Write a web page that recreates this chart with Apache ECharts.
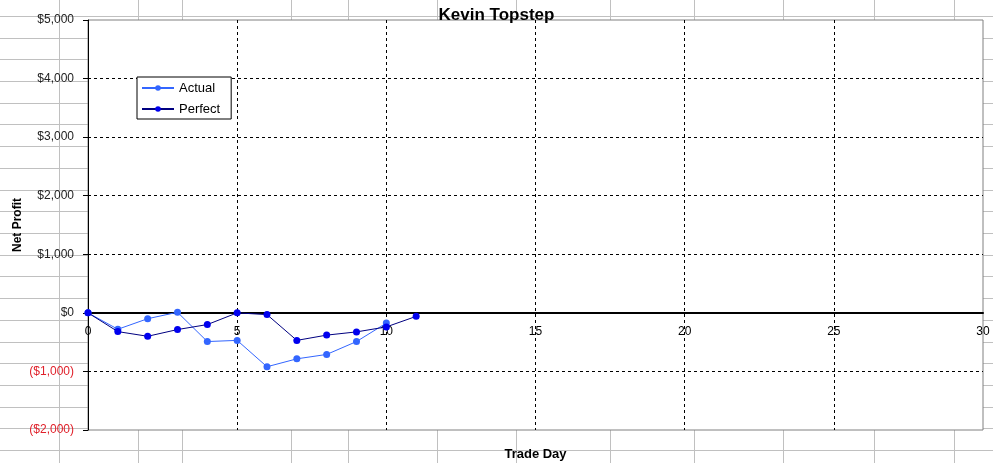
<!DOCTYPE html>
<html>
<head>
    <meta charset="utf-8" />
    <title>Kevin Topstep</title>
    <script src="https://cdn.jsdelivr.net/npm/echarts@6/dist/echarts.min.js"></script>
    <style>
        html, body { margin: 0; padding: 0; background: #fff; }
        #sheet {
            position: relative;
            width: 993px;
            height: 463px;
            overflow: hidden;
            background-image: repeating-linear-gradient(to bottom, transparent 0px, transparent 16px, #c0c0c0 16px, #c0c0c0 17px, transparent 17px, transparent 21.7px);
        }
        .col { position: absolute; top: 0; width: 1px; height: 463px; background: #c0c0c0; }
        #main { position: absolute; left: 0; top: 0; width: 993px; height: 463px; }
    </style>
</head>
<body>
    <div id="sheet">
        <div id="main"></div>
    </div>
    <script type="text/javascript">
        // trade days and net profit
        var days = [0, 1, 2, 3, 4, 5, 6, 7, 8, 9, 10, 11];
        var actual = [0, -280, -100, 10, -490, -470, -920, -785, -710, -490, -175];
        var perfect = [0, -320, -400, -285, -200, 0, -30, -470, -380, -325, -240, -60];
        var xTicks = { min: 0, max: 30, interval: 5 };
        var yTicks = { min: -2000, max: 5000, interval: 1000 };

        // spreadsheet column lines behind the chart
        var sheetCols = [59, 138, 182, 291, 348, 437, 516, 610, 694, 783, 874, 954];
        var sheet = document.getElementById('sheet');
        sheetCols.forEach(function (x) {
            var d = document.createElement('div');
            d.className = 'col';
            d.style.left = x + 'px';
            sheet.insertBefore(d, sheet.firstChild);
        });

        function pairs(xs, ys) {
            return ys.map(function (v, i) { return [xs[i], v]; });
        }

        function money(v) {
            var s = '$' + Math.abs(v).toLocaleString('en-US');
            return v < 0 ? '(' + s + ')' : s;
        }

        var font = '"Liberation Sans", Arial, sans-serif';
        var gridTop = 20, gridBottom = 33;
        var plotH = 463 - gridTop - gridBottom;
        // lift the x axis (line + labels) from the bottom edge to the $0 line
        var zeroLift = plotH * (0 - yTicks.min) / (yTicks.max - yTicks.min);

        var myChart = echarts.init(document.getElementById('main'));

        var option = {
            animation: false,
            backgroundColor: 'transparent',
            title: {
                text: 'Kevin Topstep',
                left: 'center',
                top: 2,
                textStyle: { fontFamily: font, fontSize: 17, fontWeight: 'bold', color: '#000' }
            },
            legend: {
                orient: 'vertical',
                left: 137,
                top: 77,
                backgroundColor: '#fff',
                borderColor: '#000',
                borderWidth: 1,
                borderRadius: 0,
                padding: [4, 11, 3, 4],
                itemGap: 7,
                itemWidth: 32,
                itemHeight: 7,
                textStyle: { fontFamily: font, fontSize: 13, color: '#000', lineHeight: 14 },
                data: ['Actual', 'Perfect']
            },
            grid: {
                left: 88,
                right: 10,
                top: gridTop,
                bottom: gridBottom,
                outerBoundsMode: 'none',
                containLabel: false,
                show: true,
                backgroundColor: '#fff',
                borderColor: '#808080',
                borderWidth: 1
            },
            xAxis: {
                type: 'value',
                min: xTicks.min,
                max: xTicks.max,
                interval: xTicks.interval,
                position: 'bottom',
                offset: -zeroLift,
                name: 'Trade Day',
                nameLocation: 'middle',
                nameMoveOverlap: false,
                nameGap: 18 + zeroLift,
                nameTextStyle: { fontFamily: font, fontSize: 13, fontWeight: 'bold', color: '#000' },
                axisLine: { onZero: false, lineStyle: { color: '#000', width: 2 } },
                axisTick: { show: false },
                axisLabel: { fontFamily: font, fontSize: 12, color: '#000', margin: 13 },
                splitLine: {
                    show: true,
                    showMinLine: false,
                    showMaxLine: false,
                    lineStyle: { color: '#000', type: [3, 3], width: 1 }
                }
            },
            yAxis: {
                type: 'value',
                min: yTicks.min,
                max: yTicks.max,
                interval: yTicks.interval,
                name: 'Net Profit',
                nameLocation: 'middle',
                nameMoveOverlap: false,
                nameGap: 64,
                nameTextStyle: { fontFamily: font, fontSize: 12, fontWeight: 'bold', color: '#000' },
                axisLine: { show: true, lineStyle: { color: '#000', width: 1 } },
                axisTick: { show: true, length: 5, lineStyle: { color: '#000' } },
                axisLabel: {
                    fontFamily: font,
                    fontSize: 12,
                    margin: 14,
                    formatter: money,
                    color: function (v) { return Number(v) < 0 ? '#e0202a' : '#222'; }
                },
                splitLine: {
                    show: true,
                    showMinLine: false,
                    showMaxLine: false,
                    lineStyle: { color: '#000', type: [3, 3], width: 1 }
                }
            },
            series: [
                {
                    name: 'Actual',
                    type: 'line',
                    data: pairs(days, actual),
                    symbol: 'circle',
                    symbolSize: 7,
                    lineStyle: { color: '#3366ff', width: 1 },
                    itemStyle: { color: '#3366ff' },
                    z: 3
                },
                {
                    name: 'Perfect',
                    type: 'line',
                    data: pairs(days, perfect),
                    symbol: 'circle',
                    symbolSize: 7,
                    lineStyle: { color: '#000080', width: 1 },
                    itemStyle: { color: '#0000ee' },
                    z: 4
                }
            ]
        };

        myChart.setOption(option);
    </script>
</body>
</html>
